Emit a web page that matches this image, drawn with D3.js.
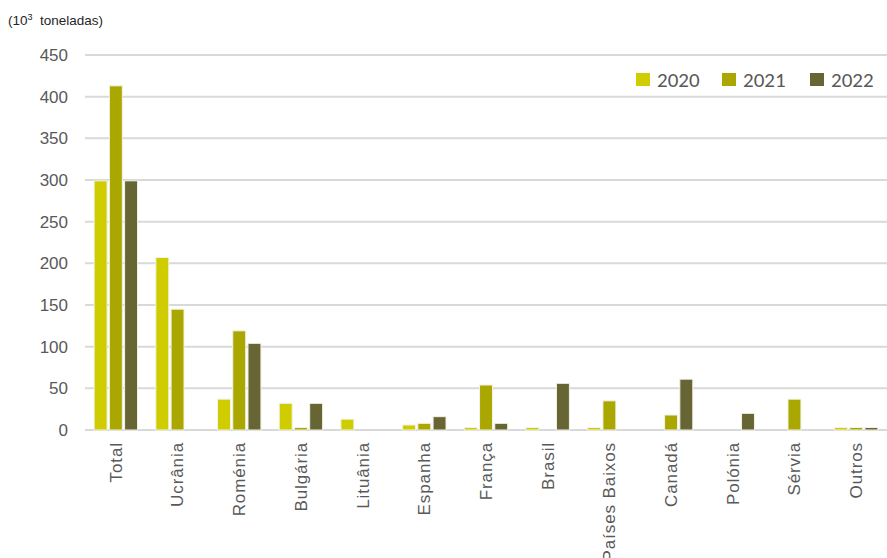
<!DOCTYPE html>
<html><head><meta charset="utf-8">
<script src="https://cdn.jsdelivr.net/npm/d3@7"></script>
<style>body{margin:0;background:#fff}svg{display:block}</style>
</head><body>
<script>
const categories = ["Total","Ucrânia","Roménia","Bulgária","Lituânia","Espanha","França","Brasil","Países Baixos","Canadá","Polónia","Sérvia","Outros"];
const seriesNames = ["2020","2021","2022"];
const values2020 = [299, 207, 37, 32, 13, 6, 3, 3, 3, 0, 0, 0, 3];
const values2021 = [413, 145, 119, 3, 0, 8, 54, 0, 35, 18, 0, 37, 3];
const values2022 = [299, 0, 104, 32, 0, 16, 8, 56, 0, 61, 20, 0, 3];
const yTicks = [0,50,100,150,200,250,300,350,400,450];
const colors = ["#cfcc00","#aaa800","#676533"];

const W=887,H=558;
const svg=d3.select("body").append("svg").attr("width",W).attr("height",H);
const x=d3.scaleBand().domain(categories).range([85,887]).paddingInner(0).paddingOuter(0);
const x1=d3.scaleBand().domain(seriesNames).range([0,x.bandwidth()]).paddingInner(0.15).paddingOuter(0.6);
const y=d3.scaleLinear().domain([0,450]).range([430,55]);

// gridlines
svg.append("g").selectAll("line").data(yTicks).join("line")
  .attr("x1",85).attr("x2",887).attr("y1",d=>y(d)).attr("y2",d=>y(d))
  .attr("stroke","#d9d9d9").attr("stroke-width",2);

// y axis labels
const yAxis=d3.axisLeft(y).tickValues(yTicks).tickSize(0).tickPadding(0);
const gy=svg.append("g").attr("transform","translate(68,0)").call(yAxis);
gy.select(".domain").remove();
gy.selectAll("text").attr("font-family","Liberation Sans, Arial, sans-serif").attr("font-size",17).attr("fill","#595959");

// bars
const data=[values2020,values2021,values2022];
data.forEach((vals,si)=>{
  svg.append("g").selectAll("rect").data(categories.map((c,i)=>({c,v:vals[i]})).filter(d=>d.v>0)).join("rect")
    .attr("x",d=>x(d.c)+x1(seriesNames[si]))
    .attr("width",x1.bandwidth())
    .attr("y",d=>y(d.v))
    .attr("height",d=>y(0)-y(d.v))
    .attr("fill",colors[si])
    .attr("stroke","#f2f2e6").attr("stroke-width",1);
});

// x labels
const xAxis=d3.axisBottom(x).tickSize(0).tickPadding(0);
const gx=svg.append("g").attr("transform","translate(0,442)").call(xAxis);
gx.select(".domain").remove();
gx.selectAll("text")
  .attr("transform","rotate(-90)")
  .attr("text-anchor","end")
  .attr("x",0).attr("y",0).attr("dy","0.35em")
  .attr("font-family","Liberation Sans, Arial, sans-serif").attr("font-size",17).attr("fill","#595959")
  .style("letter-spacing","0.9px");

// title
const t=svg.append("text").attr("x",8).attr("y",25).attr("font-family","Liberation Sans, Arial, sans-serif").attr("font-size",13.5).attr("fill","#262626").attr("xml:space","preserve").style("white-space","pre");
t.append("tspan").text("(10");
t.append("tspan").attr("font-size",9).attr("dy",-5).text("3");
t.append("tspan").attr("dy",5).text("  toneladas)");

// legend
const legX=[636,722,810];
const lg=svg.append("g");
seriesNames.forEach((s,i)=>{
  lg.append("rect").attr("x",legX[i]).attr("y",73).attr("width",14).attr("height",13).attr("fill",colors[i]);
  lg.append("text").attr("x",legX[i]+21).attr("y",87).text(s)
    .attr("font-family","Carlito, Calibri, Liberation Sans, sans-serif").attr("font-size",21).attr("fill","#595959");
});
</script>
</body></html>
